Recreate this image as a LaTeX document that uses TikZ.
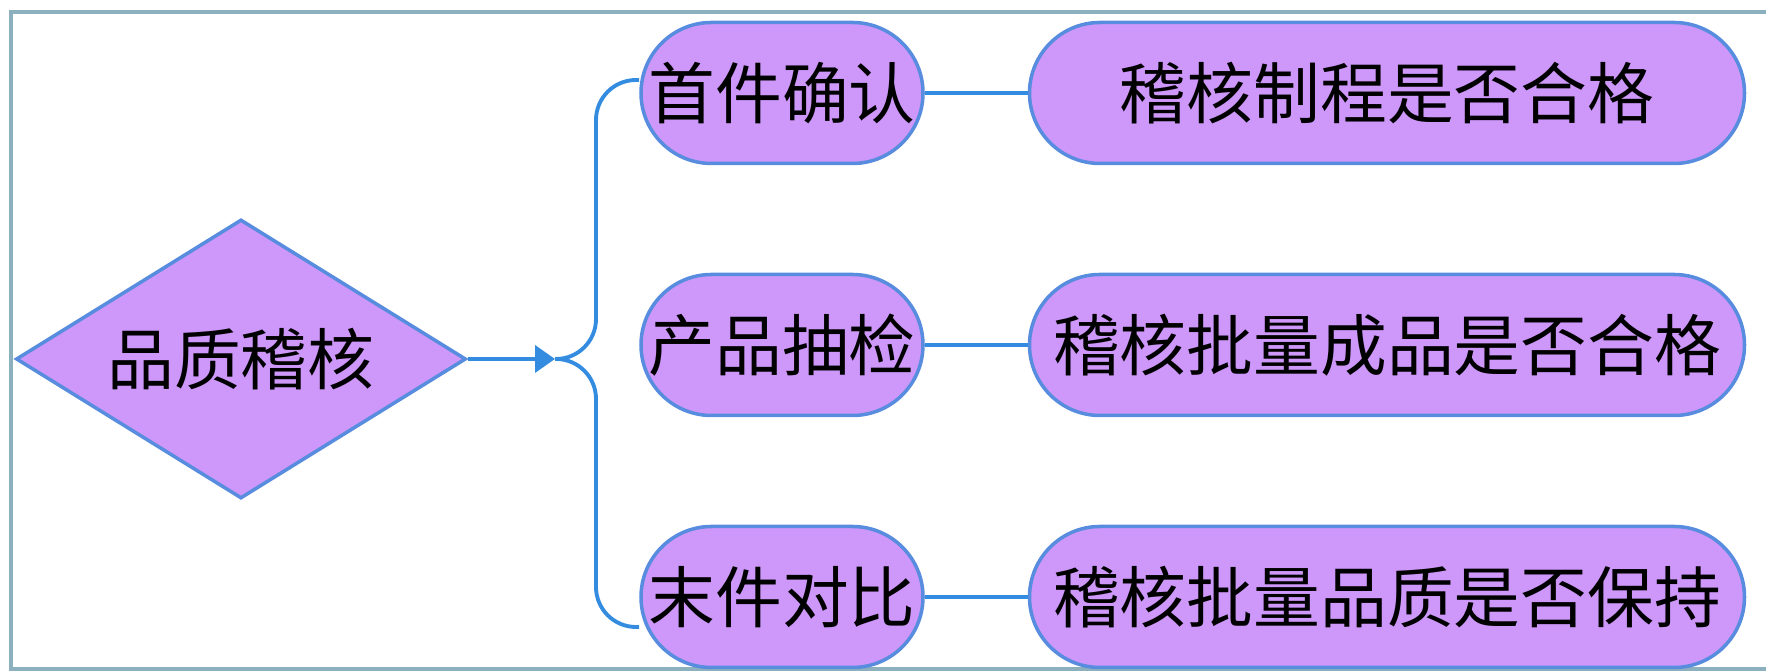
\documentclass[tikz,border=0pt]{standalone}
\usepackage{fontspec}
\newfontfamily\cjk{Noto Sans CJK SC}
\usetikzlibrary{shapes.geometric,shapes.misc,arrows.meta}
\definecolor{boxfill}{RGB}{206,152,250}
\definecolor{boxline}{RGB}{88,140,222}
\definecolor{linkblue}{RGB}{52,140,224}
\definecolor{frameline}{RGB}{140,176,190}

\begin{document}
\begin{tikzpicture}[
  font=\cjk\fontsize{19}{22}\selectfont,
  pill/.style={rounded rectangle, draw=boxline, fill=boxfill, line width=1pt, minimum height=1.41cm, inner sep=0pt},
  link/.style={draw=linkblue, line width=1.1pt}
]
  \useasboundingbox (0,0) rectangle (17.66,-6.71);
  % Frame
  \draw[frameline, line width=0.9pt] (17.66,-0.12) -- (0.11,-0.12) -- (0.11,-6.69) -- (17.66,-6.69);
  % Nodes
  \node (quality-audit) [diamond, draw=boxline, fill=boxfill, line width=1pt, shape aspect=1.6, inner sep=0pt, minimum width=4.5cm, minimum height=2.79cm] at (2.41, -3.59) {品质稽核};
  \node (first-piece) [pill, minimum width=2.82cm] at (7.82, -0.93) {首件确认};
  \node (sampling) [pill, minimum width=2.82cm] at (7.82, -3.45) {产品抽检};
  \node (last-piece) [pill, minimum width=2.82cm] at (7.82, -5.97) {末件对比};
  \node (process-ok) [pill, minimum width=7.15cm] at (13.87, -0.93) {稽核制程是否合格};
  \node (batch-ok) [pill, minimum width=7.15cm] at (13.87, -3.45) {稽核批量成品是否合格};
  \node (batch-keep) [pill, minimum width=7.15cm] at (13.87, -5.97) {稽核批量品质是否保持};
  \coordinate (fork) at (5.55, -3.59);
  % Arrow
  \draw[link, -{Triangle[length=0.2cm, width=0.27cm]}] (quality-audit.east) -- (fork);
  \draw[link, rounded corners=0.4cm] (fork) -| (5.96, -0.80) -- ([yshift=0.13cm]first-piece.west);
  \draw[link, rounded corners=0.4cm] (fork) -| (5.96, -6.27) -- ([yshift=-0.3cm]last-piece.west);
  \draw[link] (first-piece) -- (process-ok);
  \draw[link] (sampling) -- (batch-ok);
  \draw[link] (last-piece) -- (batch-keep);
\end{tikzpicture}
\end{document}
